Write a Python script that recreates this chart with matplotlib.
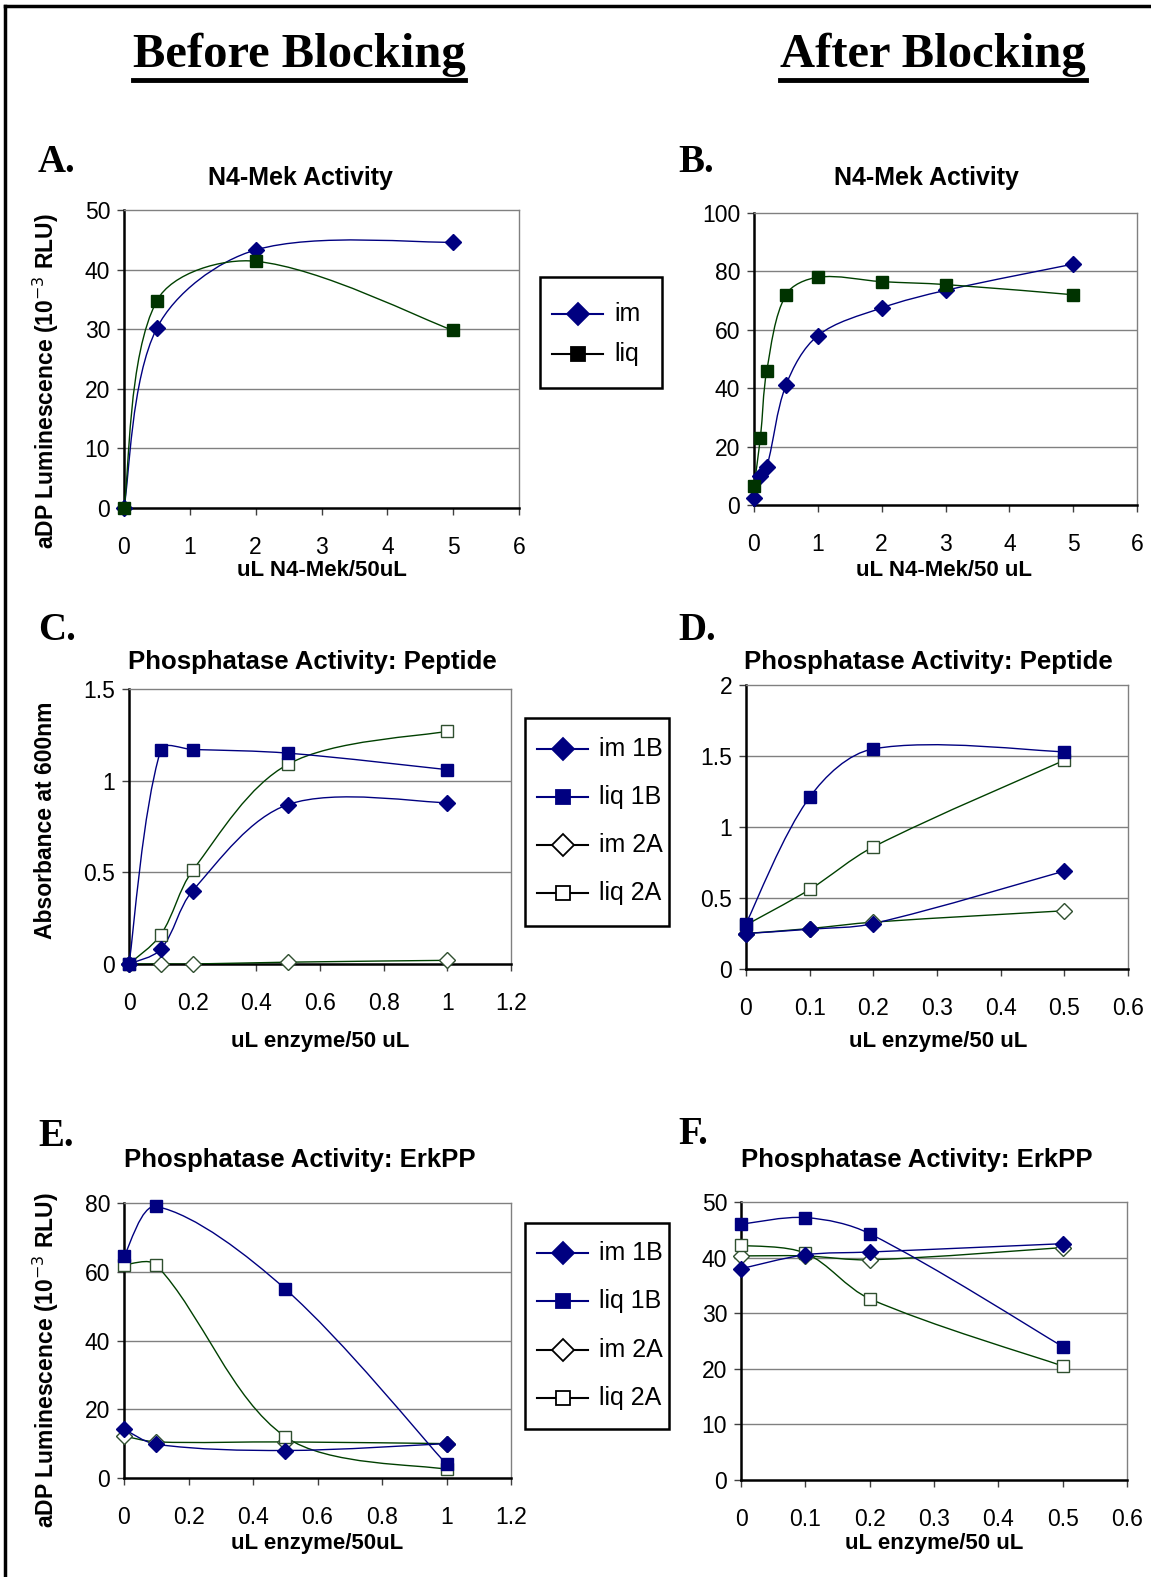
import matplotlib
matplotlib.use("Agg")
import matplotlib.pyplot as plt
from matplotlib.path import Path
from matplotlib.patches import PathPatch, Rectangle
from matplotlib.lines import Line2D
import numpy as np

# --- data ---
# A: before blocking, N4-Mek
a_x = [0, 0.5, 2, 5]
a_im = [0, 30.2, 43.3, 44.6]
a_liq = [0, 34.8, 41.4, 29.8]

# B: after blocking, N4-Mek
b_x = [0, 0.1, 0.2, 0.5, 1, 2, 3, 5]
b_im = [2.5, 10, 13, 41, 58, 67.5, 73.5, 82.5]
b_liq = [6.5, 23, 46, 72, 78, 76.5, 75.5, 72]

# C: before blocking, peptide
c_x = [0, 0.1, 0.2, 0.5, 1]
c_im1b = [0, 0.08, 0.40, 0.87, 0.88]
c_liq1b = [0, 1.17, 1.17, 1.15, 1.06]
c_im2a = [0, 0, 0, 0.01, 0.02]
c_liq2a = [0, 0.16, 0.51, 1.09, 1.27]

# D: after blocking, peptide
d_x = [0, 0.1, 0.2, 0.5]
d_im1b = [0.25, 0.28, 0.32, 0.69]
d_liq1b = [0.32, 1.21, 1.55, 1.53]
d_im2a = [0.25, 0.285, 0.33, 0.41]
d_liq2a = [0.31, 0.56, 0.86, 1.47]

# E: before blocking, ErkPP
e_x = [0, 0.1, 0.5, 1]
e_im1b = [14.2, 9.8, 8.0, 10.0]
e_liq1b = [64.5, 79, 55, 4]
e_im2a = [12.2, 10.5, 10.5, 10.0]
e_liq2a = [62, 62, 12, 2.5]

# F: after blocking, ErkPP
f_x = [0, 0.1, 0.2, 0.5]
f_im1b = [38, 40.5, 41, 42.5]
f_liq1b = [46, 47.2, 44.3, 24]
f_im2a = [40.3, 40.3, 39.6, 41.8]
f_liq2a = [42.2, 40.8, 32.6, 20.5]

NAVY = "#000080"
GREEN = "#004000"
DKGREEN = "#003300"
OPEN_EDGE = "#2f4f2f"
SANS = ["Liberation Sans", "DejaVu Sans"]
SERIF = ["Liberation Serif", "DejaVu Serif"]

W, H = 1151, 1577
fig = plt.figure(figsize=(W / 100, H / 100), dpi=100)


def rect(l, t, r, b):
    return [l / W, 1 - b / H, (r - l) / W, (b - t) / H]


def fx(px):
    return px / W


def fy(py):
    return 1 - py / H


def smooth(ax, x, y, color, box, xlim, ylim):
    # excel-like smoothed line: bezier, tangents scaled by neighbouring segment lengths (in pixels)
    sx = (box[2] - box[0]) / (xlim[1] - xlim[0])
    sy = (box[3] - box[1]) / (ylim[1] - ylim[0])
    p = np.column_stack([np.array(x) * sx, np.array(y) * sy]).astype(float)
    n = len(p)
    tan = []
    for i in range(n):
        a = p[max(i - 1, 0)]
        b = p[min(i + 1, n - 1)]
        tan.append(b - a)
    d = [np.hypot(*(p[i + 1] - p[i])) for i in range(n - 1)]
    verts = [p[0]]
    codes = [Path.MOVETO]
    for i in range(n - 1):
        dl = d[i - 1] if i > 0 else d[i]
        dr = d[i + 1] if i < n - 2 else d[i]
        c1 = p[i] + tan[i] * d[i] / (dl + d[i]) / 3.0
        c2 = p[i + 1] - tan[i + 1] * d[i] / (d[i] + dr) / 3.0
        verts += [c1, c2, p[i + 1]]
        codes += [Path.CURVE4] * 3
    verts = np.array(verts) / [sx, sy]
    ax.add_patch(PathPatch(Path(verts, codes), fill=False, edgecolor=color, lw=1.0, zorder=3))


STYLES = {
    "im": dict(color=NAVY, marker="D", mfc=NAVY, mec=NAVY, ms=8.5),
    "liq": dict(color=GREEN, marker="s", mfc=DKGREEN, mec=DKGREEN, ms=8),
    "im 1B": dict(color=NAVY, marker="D", mfc=NAVY, mec=NAVY, ms=8.5),
    "liq 1B": dict(color=NAVY, marker="s", mfc=NAVY, mec=NAVY, ms=8),
    "im 2A": dict(color=GREEN, marker="D", mfc="white", mec=OPEN_EDGE, ms=8.5),
    "liq 2A": dict(color=GREEN, marker="s", mfc="white", mec=OPEN_EDGE, ms=8),
}
LEG_COLORS = {"im": NAVY, "liq": "black", "im 1B": NAVY, "liq 1B": NAVY,
              "im 2A": "black", "liq 2A": "black"}


def panel(box, x, series, xlim, xticks, ylim, yticks, title, title_y, title_size,
          xlabel, xlabel_y, ylabel=None, ylabel_x=None):
    ax = fig.add_axes(rect(*box))
    for name, y in series:
        st = STYLES[name]
        smooth(ax, x, y, st["color"], box, xlim, ylim)
        ax.plot(x, y, linestyle="none", marker=st["marker"], mfc=st["mfc"],
                mec=st["mec"], ms=st["ms"], mew=1.0, zorder=4, clip_on=False)
    ax.set_xlim(xlim)
    ax.set_ylim(ylim)
    ax.set_xticks(xticks)
    ax.set_xticklabels(["%g" % round(v, 2) for v in xticks])
    ax.set_yticks(yticks)
    ax.set_yticklabels(["%g" % v for v in yticks])
    for v in yticks[1:-1]:
        ax.axhline(v, color="#808080", lw=1.0, zorder=1)
    for s in ["left", "bottom"]:
        ax.spines[s].set_color("black")
        ax.spines[s].set_linewidth(1.8)
    for s in ["top", "right"]:
        ax.spines[s].set_color("#808080")
        ax.spines[s].set_linewidth(1.0)
    ax.tick_params(axis="x", direction="out", length=5, width=1, color="#404040",
                   pad=15, labelsize=16.5)
    ax.tick_params(axis="y", direction="out", length=5, width=1, color="#404040",
                   pad=5, labelsize=16.5)
    for lab in ax.get_xticklabels() + ax.get_yticklabels():
        lab.set_family(SANS)
    fig.text(fx(title[1]), fy(title_y), title[0], ha="center", va="center",
             fontsize=title_size, fontweight="bold", family=SANS)
    fig.text(fx(xlabel[1]), fy(xlabel_y), xlabel[0], ha="center", va="center",
             fontsize=16, fontweight="bold", family=SANS)
    if ylabel:
        fig.text(fx(ylabel_x), fy(ylabel[1]), ylabel[0], ha="center", va="center",
                 rotation=90, fontsize=16.5, fontweight="bold", family=SANS)
    return ax


def legend(names, box, ys):
    l, t, r, b = box
    fig.add_artist(Rectangle((fx(l), fy(b)), (r - l) / W, (b - t) / H, fill=False,
                             edgecolor="black", lw=1.8, transform=fig.transFigure))
    for n, yy in zip(names, ys):
        st = STYLES[n]
        c = LEG_COLORS[n]
        fig.add_artist(Line2D([fx(l + 12), fx(l + 63)], [fy(yy), fy(yy)], color=c, lw=1.5,
                              transform=fig.transFigure))
        open_m = st["mfc"] == "white"
        fig.add_artist(Line2D([fx(l + 38)], [fy(yy)], marker=st["marker"], linestyle="none",
                              mfc="white" if open_m else c, mec="black" if open_m else c,
                              ms=st["ms"] + 2.5, mew=1.3, transform=fig.transFigure))
        fig.text(fx(l + 74), fy(yy), n, ha="left", va="center", fontsize=18, family=SANS)


# --- panel A ---
panel((124, 210, 519, 508), a_x, [("im", a_im), ("liq", a_liq)],
      (0, 6), [0, 1, 2, 3, 4, 5, 6], (0, 50), [0, 10, 20, 30, 40, 50],
      ("N4-Mek Activity", 300), 178, 18, ("uL N4-Mek/50uL", 322), 570,
      ("aDP Luminescence (10$^{-3}$ RLU)", 381), 46)
legend(["im", "liq"], (540, 277, 662, 388), [314, 354])

# --- panel B ---
panel((754, 213, 1137, 505), b_x, [("im", b_im), ("liq", b_liq)],
      (0, 6), [0, 1, 2, 3, 4, 5, 6], (0, 100), [0, 20, 40, 60, 80, 100],
      ("N4-Mek Activity", 926), 178, 18, ("uL N4-Mek/50 uL", 944), 570)

# --- panel C ---
panel((129, 689, 511, 964), c_x,
      [("im 2A", c_im2a), ("liq 2A", c_liq2a), ("im 1B", c_im1b), ("liq 1B", c_liq1b)],
      (0, 1.2), [0, 0.2, 0.4, 0.6, 0.8, 1, 1.2], (0, 1.5), [0, 0.5, 1, 1.5],
      ("Phosphatase Activity: Peptide", 312), 662, 18.5, ("uL enzyme/50 uL", 320), 1041,
      ("Absorbance at 600nm", 820), 46)
legend(["im 1B", "liq 1B", "im 2A", "liq 2A"], (525, 718, 669, 926), [749, 797, 845, 893])

# --- panel D ---
panel((746, 685, 1128, 969), d_x,
      [("im 2A", d_im2a), ("liq 2A", d_liq2a), ("im 1B", d_im1b), ("liq 1B", d_liq1b)],
      (0, 0.6), [0, 0.1, 0.2, 0.3, 0.4, 0.5, 0.6], (0, 2), [0, 0.5, 1, 1.5, 2],
      ("Phosphatase Activity: Peptide", 928), 662, 18.5, ("uL enzyme/50 uL", 938), 1041)

# --- panel E ---
panel((124, 1203, 511, 1478), e_x,
      [("im 2A", e_im2a), ("liq 2A", e_liq2a), ("im 1B", e_im1b), ("liq 1B", e_liq1b)],
      (0, 1.2), [0, 0.2, 0.4, 0.6, 0.8, 1, 1.2], (0, 80), [0, 20, 40, 60, 80],
      ("Phosphatase Activity: ErkPP", 300), 1160, 18.5, ("uL enzyme/50uL", 317), 1543,
      ("aDP Luminescence (10$^{-3}$ RLU)", 1360), 46)
legend(["im 1B", "liq 1B", "im 2A", "liq 2A"], (525, 1223, 669, 1429), [1253, 1301, 1350, 1398])

# --- panel F ---
panel((741, 1202, 1127, 1480), f_x,
      [("im 2A", f_im2a), ("liq 2A", f_liq2a), ("im 1B", f_im1b), ("liq 1B", f_liq1b)],
      (0, 0.6), [0, 0.1, 0.2, 0.3, 0.4, 0.5, 0.6], (0, 50), [0, 10, 20, 30, 40, 50],
      ("Phosphatase Activity: ErkPP", 917), 1160, 18.5, ("uL enzyme/50 uL", 934), 1543)

# --- panel letters ---
for letter, px, py in [("A.", 38, 162), ("B.", 678, 162), ("C.", 38, 631),
                       ("D.", 678, 631), ("E.", 38, 1136), ("F.", 678, 1134)]:
    fig.text(fx(px), fy(py), letter, ha="left", va="center", fontsize=28,
             fontweight="bold", family=SERIF)

# --- column headers (underlined) ---
for text, cx in [("Before Blocking", 299), ("After Blocking", 933)]:
    t = fig.text(fx(cx), fy(55), text, ha="center", va="center", fontsize=35,
                 fontweight="bold", family=SERIF)
    fig.canvas.draw()
    bb = t.get_window_extent()
    fig.add_artist(Line2D([bb.x0 / W, bb.x1 / W], [fy(80), fy(80)],
                          color="black", lw=3.5, transform=fig.transFigure))

# --- outer border (top and left edges) ---
fig.add_artist(Line2D([fx(5), 1], [fy(6), fy(6)], color="black", lw=2.5,
                      transform=fig.transFigure))
fig.add_artist(Line2D([fx(5), fx(5)], [0, fy(6)], color="black", lw=2.5,
                      transform=fig.transFigure))

fig.savefig("out.png", dpi=100)
